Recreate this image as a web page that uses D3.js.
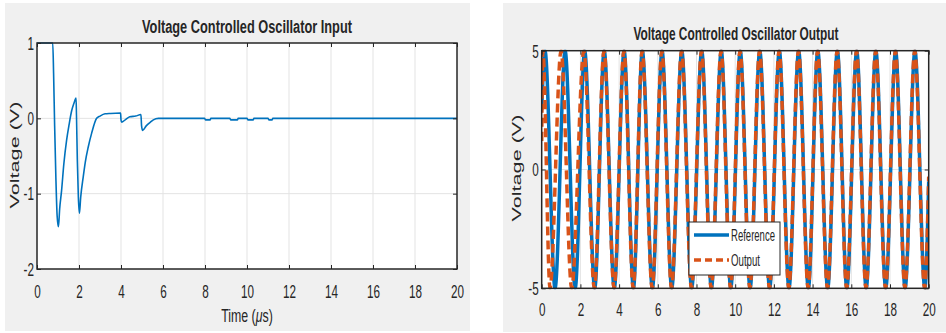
<!DOCTYPE html>
<html><head><meta charset="utf-8">
<script src="https://cdn.jsdelivr.net/npm/d3@7"></script>
<style>
html,body{margin:0;padding:0;background:#fff;}
svg{display:block;}
text{font-family:"Liberation Sans",Arial,sans-serif;fill:#262626;}
</style></head>
<body>
<svg id="c" width="946" height="333"></svg>
<script>
// ---------- DATA ----------
const xTicks = [0,2,4,6,8,10,12,14,16,18,20];
const leftYTicks = [-2,-1,0,1];
const rightYTicks = [-5,0,5];

// VCO input (left)
const inputTime = [0,0.75,0.79,0.84,0.9,0.96,1.02,1.08,1.17,1.28,1.41,1.53,1.65,1.76,1.86,1.88,1.92,1.97,2.02,2.08,2.2,2.3,2.44,2.6,2.84,3.0,3.24,3.5,3.98,4.0,4.03,4.2,4.42,4.7,4.95,4.98,5.03,5.2,5.4,5.54,5.78,7.98,8.02,8.25,8.28,9.18,9.22,9.55,9.58,10.0,10.04,10.3,10.33,11.0,11.04,11.2,11.23,20];
const inputVolt = [1,1,0.6,-0.1,-0.8,-1.3,-1.44,-1.2,-0.96,-0.6,-0.29,-0.08,0.1,0.2,0.27,0.05,-0.55,-1.05,-1.26,-1.05,-0.78,-0.58,-0.38,-0.2,0,0.03,0.06,0.065,0.07,-0.02,-0.05,-0.02,0.02,0.03,0.05,-0.1,-0.16,-0.1,-0.05,-0.02,0,0,-0.02,-0.02,0,0,-0.02,-0.02,0,0,-0.02,-0.02,0,0,-0.02,-0.02,0,0];

// VCO output (right): peaks / troughs
const refTime = [0,0.17,0.69,1.21,1.73,2.22,2.74,3.23,3.75,4.26,4.74,5.2,5.72,6.22,6.72,7.24,7.75,8.27,8.77,9.28,9.77,10.26,10.77,11.27,11.78,12.28,12.78,13.28,13.78,14.27,14.78,15.28,15.77,16.28,16.77,17.27,17.78,18.29,18.78,19.29,19.8,20];
const refVolt = [2.5,5,-5,5,-5,5,-5,5,-5,5,-5,5,-5,5,-5,5,-5,5,-5,5,-5,5,-5,5,-5,5,-5,5,-5,5,-5,5,-5,5,-5,5,-5,5,-5,5,-5,-0.5];
const outTime = [0,0.06,0.43,1.0,1.55,2.18,2.72,3.22,3.74,4.25,4.73,5.19,5.71,6.21,6.71,7.23,7.74,8.26,8.76,9.27,9.76,10.25,10.76,11.26,11.77,12.27,12.77,13.27,13.77,14.26,14.77,15.27,15.76,16.27,16.76,17.26,17.77,18.28,18.77,19.28,19.79,20];
const outVolt = [1.2,5,-5,5,-5,5,-5,5,-5,5,-5,5,-5,5,-5,5,-5,5,-5,5,-5,5,-5,5,-5,5,-5,5,-5,5,-5,5,-5,5,-5,5,-5,5,-5,5,-5,-0.3];

const titles = ["Voltage Controlled Oscillator Input","Voltage Controlled Oscillator Output"];
const legendLabels = ["Reference","Output"];
const BLUE = "#0072BD", ORANGE = "#D95319";
const SX = 0.65; // horizontal squash of the reference image

// ---------- DRAW ----------
const svg = d3.select("#c");
svg.append("rect").attr("x",5).attr("y",3).attr("width",465).attr("height",328).attr("fill","#f0f0f0");
svg.append("rect").attr("x",503).attr("y",3).attr("width",443).attr("height",329).attr("fill","#f0f0f0");

const fmt = d => String(d);

function panel(o){
  const x = d3.scaleLinear().domain([0,20]).range([o.x0,o.x1]);
  const y = d3.scaleLinear().domain(o.ydom).range([o.y1,o.y0]);
  const g = svg.append("g");
  g.append("rect").attr("x",o.x0).attr("y",o.y0).attr("width",o.x1-o.x0).attr("height",o.y1-o.y0).attr("fill","#fff");
  g.selectAll(".gx").data(xTicks.slice(1,-1)).join("line")
    .attr("x1",d=>x(d)).attr("x2",d=>x(d)).attr("y1",o.y0).attr("y2",o.y1)
    .attr("stroke","#e3e3e3").attr("stroke-width",1);
  g.selectAll(".gy").data(o.yticks.slice(1,-1)).join("line")
    .attr("y1",d=>y(d)).attr("y2",d=>y(d)).attr("x1",o.x0).attr("x2",o.x1)
    .attr("stroke","#e3e3e3").attr("stroke-width",1);
  const clipId = "clip"+o.id;
  svg.append("clipPath").attr("id",clipId).append("rect")
    .attr("x",o.x0).attr("y",o.y0-1).attr("width",o.x1-o.x0).attr("height",o.y1-o.y0+2);
  const lines = g.append("g").attr("clip-path",`url(#${clipId})`);
  const ax = d3.axisBottom(x).tickValues(xTicks).tickSize(-4).tickFormat(fmt);
  const gx = g.append("g").attr("transform",`translate(0,${o.y1})`).call(ax);
  gx.select(".domain").remove();
  gx.selectAll("line").attr("stroke","#262626");
  gx.selectAll("text").attr("y",o.xlabY).attr("dy",0).attr("font-size",18)
    .attr("transform",`scale(${SX},1)`).attr("fill","#262626");
  const axT = d3.axisTop(x).tickValues(xTicks).tickSize(-4).tickFormat("");
  const gt = g.append("g").attr("transform",`translate(0,${o.y0})`).call(axT);
  gt.select(".domain").remove(); gt.selectAll("line").attr("stroke","#262626");
  const ay = d3.axisLeft(y).tickValues(o.yticks).tickSize(-4).tickFormat(fmt);
  const gy = g.append("g").attr("transform",`translate(${o.x0},0)`).call(ay);
  gy.select(".domain").remove();
  gy.selectAll("line").attr("stroke","#262626");
  gy.selectAll("text").attr("x",-3/SX).attr("dy","0.35em").attr("font-size",18)
    .attr("transform",`scale(${SX},1)`).attr("fill","#262626");
  const ayr = d3.axisRight(y).tickValues(o.yticks).tickSize(-4).tickFormat("");
  const gr = g.append("g").attr("transform",`translate(${o.x1},0)`).call(ayr);
  gr.select(".domain").remove(); gr.selectAll("line").attr("stroke","#262626");
  g.append("rect").attr("x",o.x0).attr("y",o.y0).attr("width",o.x1-o.x0).attr("height",o.y1-o.y0)
    .attr("fill","none").attr("stroke","#262626").attr("stroke-width",1.5);
  g.append("text").attr("x",o.tx).attr("y",o.ty).attr("text-anchor","middle")
    .attr("font-size",18).attr("font-weight","bold").attr("fill","#000")
    .attr("textLength",o.tw).attr("lengthAdjust","spacingAndGlyphs").text(o.title);
  g.append("text").attr("transform",`translate(${o.ylx},${o.yly}) scale(${SX},1) rotate(-90)`)
    .attr("text-anchor","middle").attr("font-size",21).attr("fill","#262626")
    .attr("textLength",107).attr("lengthAdjust","spacingAndGlyphs").text("Voltage (V)");
  return {x,y,g,lines};
}

// Left
const L = panel({id:"L",x0:37,x1:457,y0:43,y1:269,ydom:[-2,1],yticks:leftYTicks,xlabY:29,
  tx:247,ty:33,tw:210,title:titles[0],ylx:19,yly:155});
const inputData = inputTime.map((t,i)=>({t,v:inputVolt[i]}));
L.lines.append("path").datum(inputData)
  .attr("d",d3.line().x(d=>L.x(d.t)).y(d=>L.y(d.v)).curve(d3.curveMonotoneX))
  .attr("fill","none").attr("stroke",BLUE).attr("stroke-width",1.6);
const xl = L.g.append("text").attr("transform",`translate(247,322) scale(${SX},1)`)
  .attr("text-anchor","middle").attr("font-size",19).attr("fill","#262626");
xl.append("tspan").text("Time (");
xl.append("tspan").attr("font-style","italic").text("\u03bc");
xl.append("tspan").text("s)");

// Right
const R = panel({id:"R",x0:541.7,x1:928.7,y0:50.7,y1:288.3,ydom:[-5,5],yticks:rightYTicks,xlabY:28,
  tx:736,ty:40,tw:205,title:titles[1],ylx:521,yly:168});
const refData = refTime.map((t,i)=>({t,v:refVolt[i]}));
const outData = outTime.map((t,i)=>({t,v:outVolt[i]}));
const lineR = d3.line().x(d=>R.x(d.t)).y(d=>R.y(d.v)).curve(d3.curveMonotoneX);
R.lines.append("path").datum(refData).attr("d",lineR)
  .attr("fill","none").attr("stroke",BLUE).attr("stroke-width",3.5);
R.lines.append("path").datum(outData).attr("d",lineR)
  .attr("fill","none").attr("stroke",ORANGE).attr("stroke-width",3.5).attr("stroke-dasharray","9,5");

// legend
const lg = R.g.append("g");
lg.append("rect").attr("x",689).attr("y",222).attr("width",91).attr("height",53)
  .attr("fill","#fff").attr("stroke","#262626").attr("stroke-width",1);
const legColors=[BLUE,ORANGE], legDash=[null,"7,4"], legW=[44,29];
legendLabels.forEach((lab,i)=>{
  const yy = 235 + i*25;
  lg.append("line").attr("x1",694).attr("x2",729).attr("y1",yy).attr("y2",yy)
    .attr("stroke",legColors[i]).attr("stroke-width",3.5).attr("stroke-dasharray",legDash[i]);
  lg.append("text").attr("x",731).attr("y",yy+6).attr("font-size",17).attr("fill","#000")
    .attr("textLength",legW[i]).attr("lengthAdjust","spacingAndGlyphs").text(lab);
});
</script>
</body></html>
